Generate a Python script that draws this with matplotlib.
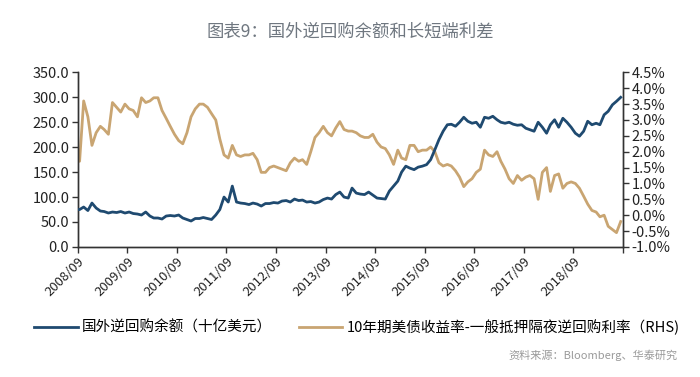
import matplotlib
matplotlib.use("Agg")
import matplotlib.pyplot as plt
import numpy as np
import pandas as pd

plt.rcParams['font.family'] = ['Noto Sans CJK SC', 'DejaVu Sans']
plt.rcParams['axes.unicode_minus'] = False

title = "图表9：国外逆回购余额和长短端利差"
label_blue = "国外逆回购余额（十亿美元）"
label_gold = "10年期美债收益率-一般抵押隔夜逆回购利率（RHS)"
source = "资料来源：Bloomberg、华泰研究"

start_month = "2008-09-01"
n_months = 132

# Foreign reverse repo balance (USD bn), monthly
repo_balance = [
    75, 80, 73, 88, 78, 72, 71, 68, 70, 69, 71, 68,
    70, 67, 66, 64, 70, 62, 58, 58, 56, 62, 63, 62,
    64, 58, 55, 52, 57, 57, 59, 57, 55, 64, 75, 100,
    90, 122, 90, 88, 87, 85, 88, 86, 82, 87, 87, 89,
    88, 92, 93, 90, 96, 93, 94, 90, 91, 88, 90, 95,
    98, 96, 105, 110, 100, 98, 118, 108, 106, 105, 110, 104,
    98, 97, 96, 112, 122, 132, 150, 162, 158, 155, 160, 162,
    165, 175, 195, 215, 232, 245, 246, 242, 250, 260, 252, 248,
    250, 240, 260, 258, 262, 255, 250, 248, 250, 246, 244, 245,
    238, 235, 232, 250, 240, 228, 245, 255, 240, 258, 250, 240,
    228, 222, 232, 252, 245, 248, 245, 265, 272, 285, 292, 300,
]

# 10Y UST yield minus GC overnight repo rate (%), monthly
spread = [
    1.7, 3.6, 3.1, 2.2, 2.6, 2.8, 2.7, 2.55, 3.55, 3.4, 3.25, 3.5,
    3.35, 3.3, 3.1, 3.7, 3.55, 3.6, 3.7, 3.7, 3.3, 3.05, 2.8, 2.55,
    2.35, 2.25, 2.6, 3.1, 3.35, 3.5, 3.5, 3.4, 3.2, 3.0, 2.4, 1.9,
    1.8, 2.2, 1.9, 1.85, 1.9, 1.9, 1.95, 1.75, 1.35, 1.35, 1.5, 1.55,
    1.5, 1.45, 1.4, 1.65, 1.8, 1.7, 1.75, 1.6, 2.0, 2.45, 2.6, 2.8,
    2.6, 2.5, 2.75, 2.95, 2.7, 2.65, 2.65, 2.6, 2.5, 2.45, 2.45, 2.55,
    2.3, 2.15, 2.1, 1.9, 1.6, 2.05, 1.8, 1.75, 2.2, 2.2, 2.0, 2.05,
    2.05, 2.15, 2.0, 1.65, 1.55, 1.6, 1.55, 1.4, 1.2, 0.9, 1.05, 1.15,
    1.35, 1.45, 2.05, 1.9, 1.85, 2.0, 1.7, 1.45, 1.15, 1.0, 1.25, 1.1,
    1.2, 1.25, 1.15, 0.5, 1.35, 1.5, 0.75, 1.25, 1.3, 0.85, 1.0, 1.05,
    1.0, 0.85, 0.6, 0.35, 0.15, 0.1, -0.05, 0.0, -0.35, -0.45, -0.55, -0.2,
]

left_ticks = [0, 50, 100, 150, 200, 250, 300, 350]
right_ticks = [-1.0, -0.5, 0.0, 0.5, 1.0, 1.5, 2.0, 2.5, 3.0, 3.5, 4.0, 4.5]
x_tick_labels = ["2008/09", "2009/09", "2010/09", "2011/09", "2012/09", "2013/09",
                 "2014/09", "2015/09", "2016/09", "2017/09", "2018/09"]

dates = pd.date_range(start_month, periods=n_months, freq="MS") + pd.Timedelta(days=14)
dates = dates.insert(0, pd.Timestamp(start_month))
repo_plot = [repo_balance[0]] + repo_balance
spread_plot = [spread[0]] + spread

blue = "#1f4a70"
gold = "#c9a572"
text_col = "#222222"

fig = plt.figure(figsize=(7, 3.77), dpi=100)
ax = fig.add_axes([0.111, 0.345, 0.779, 0.463])
ax2 = ax.twinx()

ax.plot(dates, repo_plot, color=blue, lw=2.0, zorder=3)
ax2.plot(dates, spread_plot, color=gold, lw=2.0, zorder=2)
ax.set_zorder(ax2.get_zorder() + 1)
ax.patch.set_visible(False)

ax.set_ylim(0, 350)
ax.set_yticks(left_ticks)
ax.set_yticklabels([f"{v:.1f}" for v in left_ticks], fontsize=10.5, color=text_col)
ax2.set_ylim(-1.0, 4.5)
ax2.set_yticks(right_ticks)
ax2.set_yticklabels([f"{v:.1f}%" for v in right_ticks], fontsize=10.5, color=text_col)

xmin = pd.Timestamp("2008-09-01")
xmax = pd.Timestamp("2019-09-01")
ax.set_xlim(xmin, xmax)
tick_dates = [pd.Timestamp(f"{lab[:4]}-09-01") for lab in x_tick_labels] + [xmax]
ax.set_xticks(tick_dates)
ax.set_xticklabels(x_tick_labels + [""], rotation=45, ha="right", rotation_mode="anchor",
                   fontsize=9.5, color=text_col)

for a in (ax, ax2):
    a.spines['top'].set_visible(False)
    for s in ('left', 'right', 'bottom'):
        a.spines[s].set_color("#333333")
        a.spines[s].set_linewidth(1.0)
ax.tick_params(axis='x', direction='out', length=4, width=1, colors="#333333", pad=2)
ax.tick_params(axis='y', direction='out', length=4, width=1, colors="#333333", pad=2)
ax2.tick_params(axis='y', direction='out', length=4, width=1, colors="#333333", pad=2)
for lab in ax.get_xticklabels() + ax.get_yticklabels() + ax2.get_yticklabels():
    lab.set_color(text_col)

fig.text(0.5, 0.915, title, ha="center", va="center", fontsize=12.5, color="#6f7780")

h1, = ax.plot([], [], color=blue, lw=2)
h2, = ax.plot([], [], color=gold, lw=2)
fig.legend([h1, h2], [label_blue, label_gold], loc="center", bbox_to_anchor=(0.51, 0.132),
           ncol=2, frameon=False, fontsize=10.5, handlelength=3.0, handletextpad=0.3,
           columnspacing=1.8)

fig.text(0.968, 0.058, source, ha="right", va="center", fontsize=8, color="#9a9a9a")

fig.savefig("out.png", dpi=100)
